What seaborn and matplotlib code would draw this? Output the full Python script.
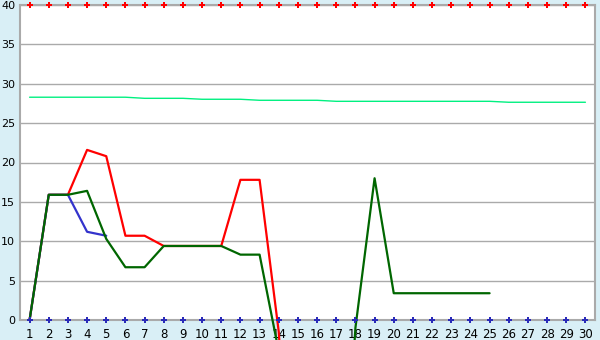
import matplotlib
matplotlib.use("Agg")
import matplotlib.pyplot as plt
import seaborn as sns
import numpy as np
import pandas as pd

days = list(range(1, 31))
nan = np.nan
red_vals = [0, 15.9, 15.9, 21.6, 20.8, 10.7, 10.7, 9.4, 9.4, 9.4, 9.4, 17.8, 17.8, -1.5, -40] + [nan] * 15
blue_vals = [0, 15.9, 15.9, 11.2, 10.7] + [nan] * 25
green_vals = [0, 15.9, 15.9, 16.4, 10.3, 6.7, 6.7, 9.4, 9.4, 9.4, 9.4, 8.3, 8.3, -4, -40,
              -40, -40, -1, 18.0, 3.4, 3.4, 3.4, 3.4, 3.4, 3.4] + [nan] * 5
light_vals = [28.29] * 6 + [28.15] * 3 + [28.03] * 3 + [27.9] * 4 + [27.77] * 9 + [27.65] * 5
top_marks = [40] * 30
bottom_marks = [0] * 30
y_ticks = [0, 5, 10, 15, 20, 25, 30, 35, 40]

sns.set_style("white")
plt.rcParams['font.family'] = ['DejaVu Sans']

bg = '#d9eff6'
fig = plt.figure(figsize=(6, 3.4), dpi=100, facecolor=bg)
ax = fig.add_axes([20/600, 1-320/340, 575/600, 315/340])
ax.set_facecolor('white')

df = pd.DataFrame({'day': days, 'red': red_vals, 'blue': blue_vals, 'green': green_vals,
                   'light': light_vals, 'top': top_marks, 'bottom': bottom_marks})

for col, color, lw, z in [('red', '#ff0000', 1.6, 3), ('blue', '#3333cc', 1.6, 4),
                          ('green', '#006600', 1.6, 5), ('light', '#00f080', 1.0, 3)]:
    sub = df[['day', col]].dropna()
    sns.lineplot(data=sub, x='day', y=col, color=color, linewidth=lw, ax=ax,
                 zorder=z, clip_on=False)

sns.scatterplot(data=df, x='day', y='top', color='#ff0000', marker='P', s=24,
                edgecolor='#ff0000', linewidth=0, ax=ax, zorder=6, clip_on=False)
sns.scatterplot(data=df, x='day', y='bottom', color='#2a2ab8', marker='P', s=18,
                edgecolor='#2a2ab8', linewidth=0, ax=ax, zorder=6, clip_on=False)

ax.set_xlim(0.5, 30.5)
ax.set_ylim(0, 40)
ax.set_xticks(days)
ax.set_xticklabels([str(d) for d in days])
ax.set_yticks(y_ticks)
ax.set_yticklabels([str(t) for t in y_ticks])
ax.yaxis.grid(True, color='#aaaaaa', linewidth=1.0)
ax.xaxis.grid(False)
ax.set_axisbelow(True)
for s in ['left', 'bottom', 'right', 'top']:
    ax.spines[s].set_visible(True)
    ax.spines[s].set_color('#aaaaaa')
    ax.spines[s].set_linewidth(1.5)
ax.tick_params(axis='y', direction='out', length=3, width=1, color='black',
               labelsize=8, labelcolor='black', pad=0.5)
ax.tick_params(axis='x', direction='out', length=5, width=1, color='black',
               labelsize=8.5, labelcolor='black', pad=1)
ax.set_xlabel('')
ax.set_ylabel('')
legend = ax.get_legend()
if legend:
    legend.remove()

fig.savefig('out.png', dpi=100, facecolor=bg)
